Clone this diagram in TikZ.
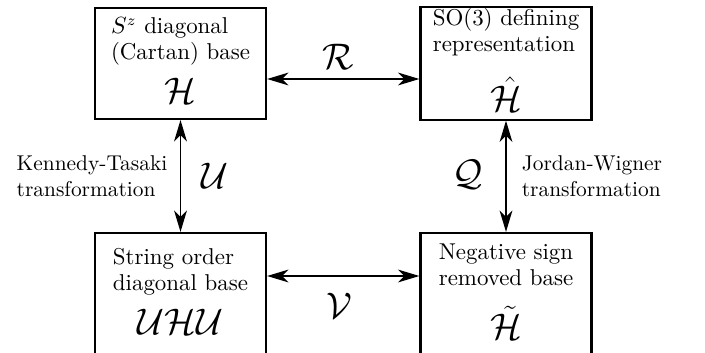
\documentclass[tikz,border=0pt]{standalone}
\usepackage{amsmath,amssymb}
\usepackage{tikz}
\usetikzlibrary{arrows.meta,positioning,calc}

\begin{document}
\begin{tikzpicture}[x=0.467pt,y=0.467pt,
    basebox/.style={draw,line width=1pt,inner sep=0pt,minimum width=79.9pt,minimum height=51.8pt,
      font=\fontsize{10.7}{12.2}\selectfont},
    lowbox/.style={basebox,minimum height=57pt},
    maparrow/.style={{Stealth[length=10pt,width=6pt,inset=3pt]}-{Stealth[length=10pt,width=6pt,inset=3pt]},line width=0.7pt},
    maplabel/.style={font=\LARGE},
    sidenote/.style={align=left}]
    \clip (0,0) rectangle (705,352);
    % the four bases
    \node[basebox] (cartan) at (180.5,288.5) {\begin{tabular}{@{}l@{}}$S^z$ diagonal\\(Cartan) base\\[5pt]\multicolumn{1}{@{}c@{}}{\LARGE$\mathcal{H}$}\end{tabular}};
    \node[basebox] (sothree) at (506,288.5) {\begin{tabular}{@{}l@{}}SO(3) defining\\representation\\[8pt]\multicolumn{1}{@{}c@{}}{\LARGE$\hat{\mathcal{H}}$}\end{tabular}};
    \node[lowbox] (stringord) at (180.5,58) {\begin{tabular}{@{}l@{}}String order\\diagonal base\\[5pt]\multicolumn{1}{@{}c@{}}{\LARGE$\mathcal{U}\mathcal{H}\mathcal{U}$}\end{tabular}};
    \node[lowbox] (signfree) at (506,58) {\begin{tabular}{@{}l@{}}Negative sign\\removed base\\[6pt]\multicolumn{1}{@{}c@{}}{\LARGE$\tilde{\mathcal{H}}$}\end{tabular}};
    % maps between them
    \draw[maparrow] ($(cartan.east)+(0,-15.5)$) -- ($(sothree.west)+(0,-15.5)$);
    \draw[maparrow] ($(stringord.east)+(0,18)$) -- ($(signfree.west)+(0,18)$);
    \draw[maparrow] (cartan.south) -- (stringord.north);
    \draw[maparrow] (sothree.south) -- (signfree.north);
    \node[maplabel] (rmap) at (338,295) {$\mathcal{R}$};
    \node[maplabel] (vmap) at (339,46) {$\mathcal{V}$};
    \node[maplabel] (umap) at (215,176) {$\mathcal{U}$};
    \node[maplabel] (qmap) at (468,177) {$\mathcal{Q}$};
    \node[sidenote] (ktnote) at (92,176) {Kennedy-Tasaki\\transformation};
    \node[sidenote] (jwnote) at (592,176) {Jordan-Wigner\\transformation};
  \end{tikzpicture}
\end{document}
